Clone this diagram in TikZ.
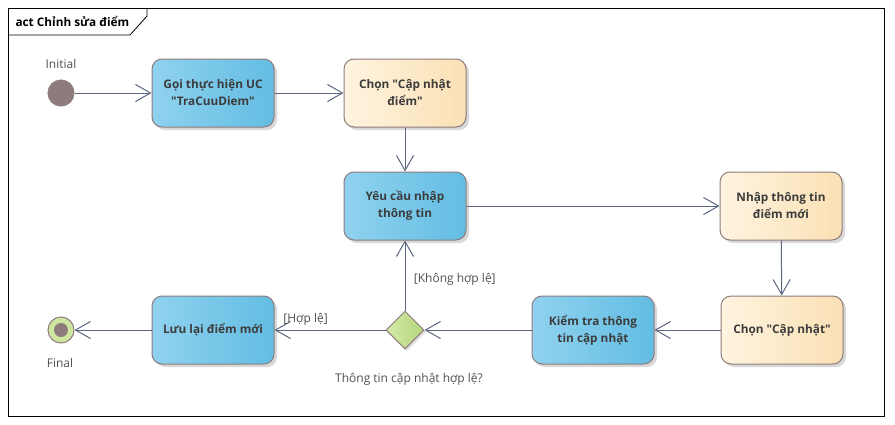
\documentclass[tikz,border=0pt]{standalone}
\usepackage{fontspec}
\setmainfont{Open Sans}
\usetikzlibrary{arrows.meta,shapes.geometric,shadows}

\definecolor{actblueL}{HTML}{8FD2EF}
\definecolor{actblueR}{HTML}{63BDE3}
\definecolor{actcreamL}{HTML}{FFF4E0}
\definecolor{actcreamR}{HTML}{FAE0B4}
\definecolor{actgreenL}{HTML}{D6EAA9}
\definecolor{actgreenR}{HTML}{B3D57B}
\definecolor{actborder}{HTML}{8E7B7B}
\definecolor{actline}{HTML}{5B6680}
\definecolor{acttext}{HTML}{3C3C3C}
\definecolor{actlabel}{HTML}{505050}

\newcommand{\dq}{\textquotedbl}

\tikzset{
    action/.style={rounded corners=10pt, draw=actborder, line width=1pt,
        minimum width=122pt, minimum height=68pt, align=center,
        font=\fontsize{11.8}{17}\selectfont\bfseries, text=acttext,
        drop shadow={shadow xshift=3pt, shadow yshift=-3pt, fill=black!30, opacity=.5}},
    bluebox/.style={action, left color=actblueL, right color=actblueR},
    creambox/.style={action, left color=actcreamL, right color=actcreamR},
    flow/.style={draw=actline, line width=1pt, -{Straight Barb[length=15pt,width=17pt,line width=1pt]}},
    guard/.style={text=actlabel, font=\fontsize{12}{14}\selectfont}
}

\begin{document}
\begin{tikzpicture}[x=1pt, y=-1pt]
    \useasboundingbox (0,0) rectangle (895,424);

    % Rahmen.
    \draw[line width=.8pt] (8,8) rectangle (884,416);
    \draw[line width=.8pt] (8,35) -- (130,35) -- (147,16) -- (147,8);
    \node[anchor=west, font=\fontsize{11.8}{14}\selectfont\bfseries] (titel) at (12,21) {act Chỉnh sửa điểm};

    % Knoten.
    \node[circle, draw=actborder, fill=actborder, line width=1pt, minimum size=26pt, inner sep=0pt] (init) at (61,93) {};
    \node[guard] (initLbl) at (61,64) {Initial};

    \node[bluebox] (goiUC) at (213,93) {Gọi thực hiện UC\\\dq TraCuuDiem\dq};
    \node[creambox] (chonCNDiem) at (405,93) {Chọn \dq Cập nhật\\điểm\dq};
    \node[bluebox] (yeuCau) at (405,206) {Yêu cầu nhập\\thông tin};
    \node[creambox] (nhapTT) at (781,206) {Nhập thông tin\\điểm mới};
    \node[creambox] (chonCN) at (782,330) {Chọn \dq Cập nhật\dq};
    \node[bluebox] (kiemTra) at (593,330) {Kiểm tra thông\\tin cập nhật};
    \node[diamond, draw=actborder, line width=1pt, left color=actgreenL, right color=actgreenR,
        minimum size=38pt, inner sep=0pt,
        drop shadow={shadow xshift=2pt, shadow yshift=-2pt, fill=black!30, opacity=.4}] (hopLe) at (405,330) {};
    \node[guard] (hopLeLbl) at (409,379) {Thông tin cập nhật hợp lệ?};
    \node[bluebox] (luuDiem) at (213,330) {Lưu lại điểm mới};

    \node[circle, draw=actborder, fill=actgreenL!80!actgreenR, line width=1pt, minimum size=26pt, inner sep=0pt] (final) at (61,330) {};
    \node[circle, fill=actborder, minimum size=14pt, inner sep=0pt] (finalDot) at (final) {};
    \node[guard] (finalLbl) at (60,363) {Final};

    % Kanten.
    \draw[flow] (init) -- (goiUC);
    \draw[flow] (goiUC) -- (chonCNDiem);
    \draw[flow] (chonCNDiem) -- (yeuCau);
    \draw[flow] (yeuCau) -- (nhapTT);
    \draw[flow] (nhapTT) -- (chonCN);
    \draw[flow] (chonCN) -- (kiemTra);
    \draw[flow] (kiemTra) -- (hopLe);
    \draw[flow] (hopLe) -- node[guard, pos=.45, anchor=west, xshift=5pt] (khongLbl) {[Không hợp lệ]} (yeuCau);
    \draw[flow] (hopLe) -- node[guard, pos=.72, anchor=south, yshift=1pt] (coLbl) {[Hợp lệ]} (luuDiem);
    \draw[flow] (luuDiem) -- (final);
\end{tikzpicture}
\end{document}
